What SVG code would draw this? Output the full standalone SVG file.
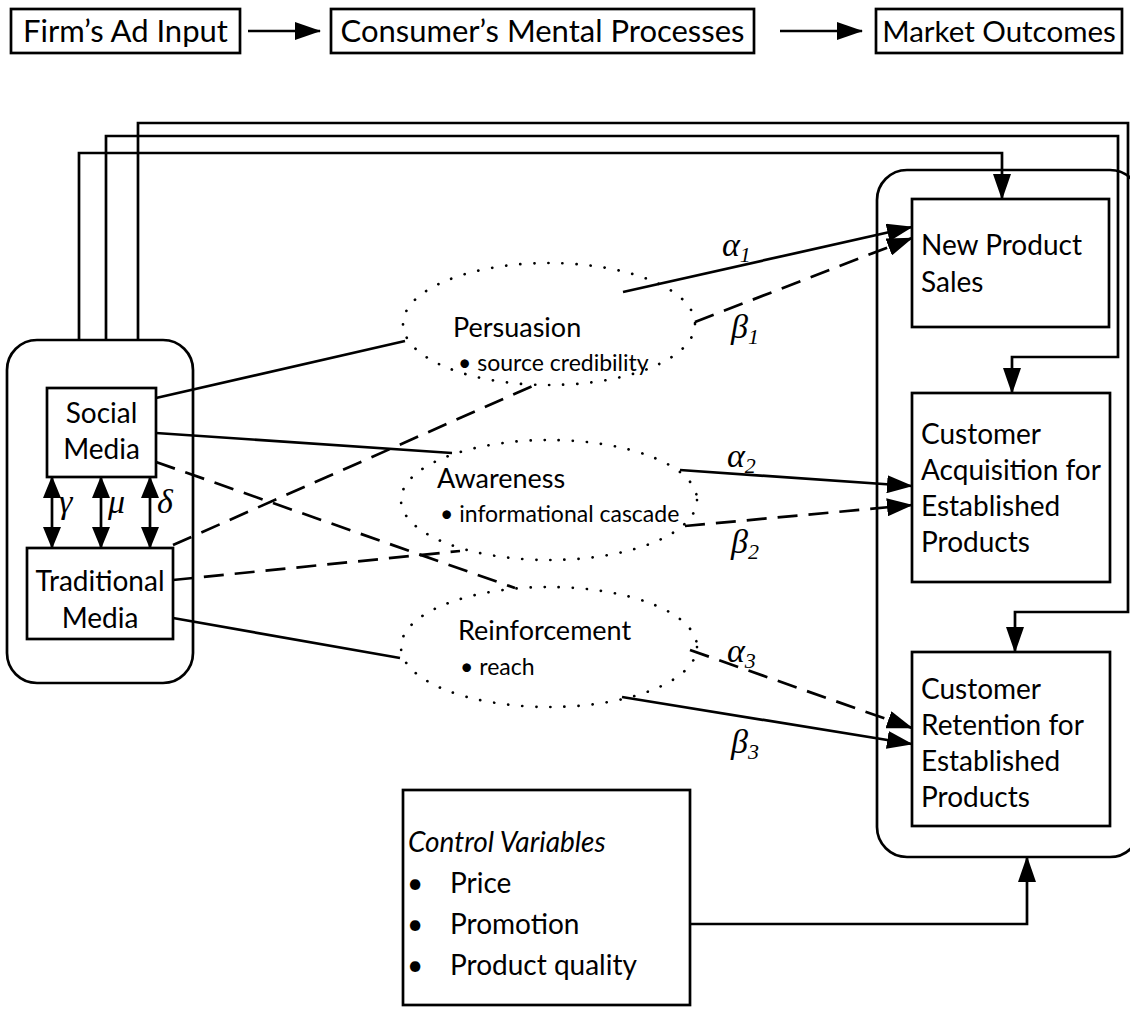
<svg xmlns="http://www.w3.org/2000/svg" width="1130" height="1020" viewBox="0 0 1130 1020">
<defs>
<marker id="ah" markerWidth="26" markerHeight="18" refX="25" refY="9" orient="auto" markerUnits="userSpaceOnUse"><path d="M0,0 L26,9 L0,18 Z" fill="#000"/></marker>
<marker id="ahs" markerWidth="22" markerHeight="18" refX="21" refY="9" orient="auto-start-reverse" markerUnits="userSpaceOnUse"><path d="M0,0 L22,9 L0,18 Z" fill="#000"/></marker>
<style>
.box{fill:#fff;stroke:#000;stroke-width:2.7}
.grp{fill:none;stroke:#000;stroke-width:2.7}
.ell{fill:none;stroke:#000;stroke-width:2.7;stroke-dasharray:0.1 14;stroke-linecap:round}
.ln{fill:none;stroke:#000;stroke-width:2.7}
.dsh{fill:none;stroke:#000;stroke-width:2.7;stroke-dasharray:20 11}
.t{font-family:Lato,"Liberation Sans",sans-serif;fill:#000}
.tt{font-size:31px}
.tm{font-size:29.5px}
.nt{font-size:28px}
.et{font-size:27px}
.st{font-size:23px}
.g{font-family:"Liberation Serif","DejaVu Serif",serif;font-style:italic;font-size:34px;fill:#000}
.gs{font-size:22px}
</style>
</defs>

<g id="header">
<g id="firm"><rect class="box" x="11" y="9" width="229" height="44"/><text class="t tt" x="125.5" y="42" text-anchor="middle">Firm’s Ad Input</text></g>
<g id="consumer"><rect class="box" x="331" y="9" width="423" height="44"/><text class="t tt" x="542.5" y="42" text-anchor="middle">Consumer’s Mental Processes</text></g>
<g id="market"><rect class="box" x="876" y="9" width="246" height="44"/><text class="t tm" x="999" y="42" text-anchor="middle">Market Outcomes</text></g>
</g>

<g id="media-group">
<rect class="grp" x="7" y="340" width="186" height="343" rx="30"/>
<g id="social"><rect class="box" x="47" y="388" width="109" height="89"/><text class="t nt" x="101.5" y="423" text-anchor="middle">Social</text><text class="t nt" x="101.5" y="459" text-anchor="middle">Media</text></g>
<g id="traditional"><rect class="box" x="27" y="548" width="146" height="91"/><text class="t nt" x="100" y="591" text-anchor="middle">Traditional</text><text class="t nt" x="100" y="628" text-anchor="middle">Media</text></g>
</g>

<g id="persuasion"><ellipse class="ell" cx="549" cy="324" rx="146" ry="61"/><text class="t et" x="453" y="337">Persuasion</text><text class="t st" x="458" y="371">• source credibility</text></g>
<g id="awareness"><ellipse class="ell" cx="549" cy="500" rx="148" ry="60"/><text class="t et" x="437" y="488">Awareness</text><text class="t st" x="440" y="522">• informational cascade</text></g>
<g id="reinforcement"><ellipse class="ell" cx="549" cy="647" rx="148" ry="60"/><text class="t et" x="458" y="640">Reinforcement</text><text class="t st" x="460" y="675">• reach</text></g>

<g id="outcomes">
<rect class="grp" x="877" y="170" width="263" height="687" rx="30"/>
<g id="nps"><rect class="box" x="912" y="199" width="197" height="128"/><text class="t nt" x="921" y="255">New Product</text><text class="t nt" x="921" y="292">Sales</text></g>
<g id="acq"><rect class="box" x="912" y="393" width="198" height="189"/><text class="t nt" x="921" y="444">Customer</text><text class="t nt" x="921" y="480">Acquisition for</text><text class="t nt" x="921" y="516">Established</text><text class="t nt" x="921" y="552">Products</text></g>
<g id="ret"><rect class="box" x="912" y="652" width="198" height="174"/><text class="t nt" x="921" y="699">Customer</text><text class="t nt" x="921" y="735">Retention for</text><text class="t nt" x="921" y="771">Established</text><text class="t nt" x="921" y="807">Products</text></g>
</g>

<g id="controls"><rect class="box" x="403" y="790" width="287" height="215"/>
<text class="t nt" x="408" y="852" font-style="italic">Control Variables</text>
<text class="t nt" x="407" y="893">•</text><text class="t nt" x="450" y="893">Price</text>
<text class="t nt" x="407" y="934">•</text><text class="t nt" x="450" y="934">Promotion</text>
<text class="t nt" x="407" y="975">•</text><text class="t nt" x="450" y="975">Product quality</text>
</g>

<g id="connectors">
<line class="ln" x1="248" y1="31" x2="320" y2="31" marker-end="url(#ah)"/>
<line class="ln" x1="780" y1="31" x2="862" y2="31" marker-end="url(#ah)"/>
<polyline class="ln" points="79,340 79,153 1002,153 1002,199" marker-end="url(#ah)"/>
<polyline class="ln" points="106,340 106,136 1118,136 1118,357 1012,357 1012,393" marker-end="url(#ah)"/>
<polyline class="ln" points="138,340 138,123 1128,123 1128,612 1015,612 1015,652" marker-end="url(#ah)"/>
<line class="ln" x1="52" y1="477" x2="52" y2="548" marker-start="url(#ahs)" marker-end="url(#ahs)"/>
<line class="ln" x1="101" y1="477" x2="101" y2="548" marker-start="url(#ahs)" marker-end="url(#ahs)"/>
<line class="ln" x1="150" y1="477" x2="150" y2="548" marker-start="url(#ahs)" marker-end="url(#ahs)"/>
<line class="ln" x1="156" y1="398" x2="405" y2="341"/>
<line class="ln" x1="156" y1="433" x2="452" y2="453"/>
<line class="dsh" x1="156" y1="462" x2="515" y2="588"/>
<line class="dsh" x1="173" y1="545" x2="537" y2="384"/>
<line class="dsh" x1="173" y1="580" x2="460" y2="551"/>
<line class="ln" x1="173" y1="618" x2="400" y2="658"/>
<line class="ln" x1="623" y1="292" x2="912" y2="227" marker-end="url(#ah)"/>
<line class="dsh" x1="695" y1="322" x2="912" y2="238" marker-end="url(#ah)"/>
<line class="ln" x1="680" y1="470" x2="912" y2="486" marker-end="url(#ah)"/>
<line class="dsh" x1="685" y1="526" x2="912" y2="505" marker-end="url(#ah)"/>
<line class="dsh" x1="690" y1="650" x2="912" y2="728" marker-end="url(#ah)"/>
<line class="ln" x1="622" y1="697" x2="912" y2="744" marker-end="url(#ah)"/>
<polyline class="ln" points="690,924 1027,924 1027,857" marker-end="url(#ah)"/>
</g>

<g id="labels">
<text class="g" x="59" y="513">γ</text>
<text class="g" x="108" y="513">μ</text>
<text class="g" x="157" y="513">δ</text>
<text class="g" x="722" y="256">α<tspan class="gs" dy="6">1</tspan></text>
<text class="g" x="731" y="338">β<tspan class="gs" dy="6">1</tspan></text>
<text class="g" x="727" y="467">α<tspan class="gs" dy="6">2</tspan></text>
<text class="g" x="731" y="553">β<tspan class="gs" dy="6">2</tspan></text>
<text class="g" x="727" y="662">α<tspan class="gs" dy="6">3</tspan></text>
<text class="g" x="731" y="753">β<tspan class="gs" dy="6">3</tspan></text>
</g>
</svg>
